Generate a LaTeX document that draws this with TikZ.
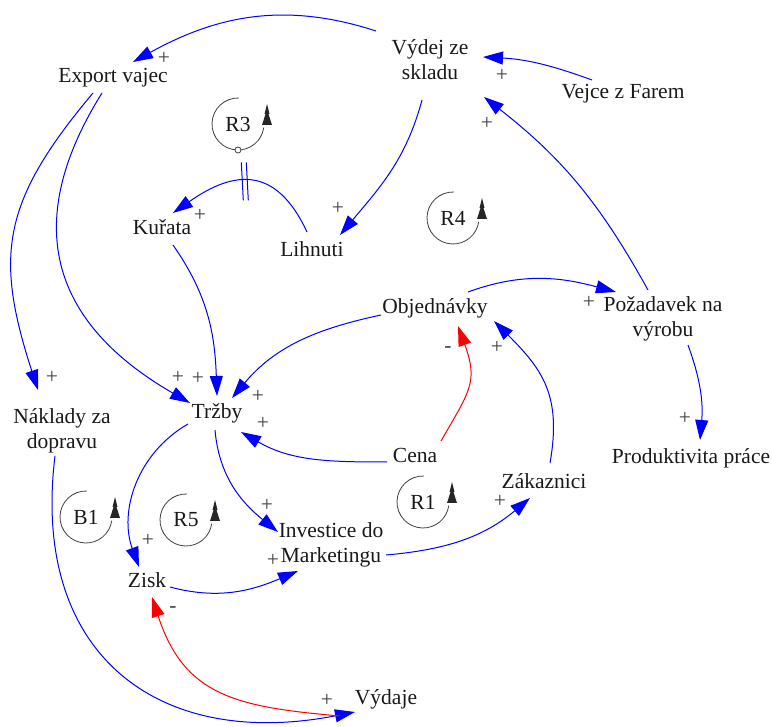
\documentclass[tikz,border=0pt]{standalone}
\usepackage{fontspec}
\setmainfont{Liberation Serif}
\usetikzlibrary{arrows.meta}
\tikzset{
  loopmark/.pic={
    \draw[loopline] (272:26) arc[start angle=272, end angle=8, radius=26];
    \fill[black!85] (29,-20) -- (26.5,-10) -- (27.5,-10) -- (24,1) -- (34,1)
      -- (30.5,-10) -- (31.5,-10) -- cycle;
  }
}
\begin{document}
\begin{tikzpicture}[x=1pt,y=-1pt,
  every node/.style={font=\fontsize{21.5}{25}\selectfont, inner sep=0pt, text=black!90},
  varm/.style={align=center},
  plink/.style={blue, line width=1pt, -{Triangle[length=20pt,width=13pt]}},
  nlink/.style={red, line width=1pt, -{Triangle[length=20pt,width=13pt]}},
  sgn/.style={text=black!75},
  loopline/.style={draw=black!75, line width=0.8pt}]
\useasboundingbox (0,0) rectangle (772,727);

% variables
\node[anchor=base] (exp) at (113,83) {Export vajec};
\node[varm] (vyd) at (430,60) {Výdej ze\\skladu};
\node[anchor=base] (vej) at (623,99) {Vejce z Farem};
\node[anchor=base] (kur) at (162,235) {Kuřata};
\node[anchor=base] (lih) at (312,257) {Lihnuti};
\node[anchor=base] (obj) at (435,314) {Objednávky};
\node[varm] (poz) at (663,318.5) {Požadavek na\\výrobu};
\node[anchor=base] (trz) at (217,419) {Tržby};
\node[varm] (nak) at (62,430.5) {Náklady za\\dopravu};
\node[anchor=base] (cen) at (415,463) {Cena};
\node[anchor=base] (pro) at (691,464) {Produktivita práce};
\node[anchor=base] (zak) at (544,489) {Zákaznici};
\node[varm] (inv) at (331,544.5) {Investice do\\Marketingu};
\node[anchor=base] (zis) at (147,587) {Zisk};
\node[anchor=base] (vyda) at (386,704) {Výdaje};

% loop identifiers
\pic at (238,124) {loopmark};
\node (r3) at (238,124) {R3};
\draw[loopline, fill=white] (238,150) circle[radius=3];
\pic at (453,218) {loopmark};
\node (r4) at (453,218) {R4};
\pic at (423,502) {loopmark};
\node (r1) at (423,502) {R1};
\pic at (86,517) {loopmark};
\node (b1) at (86,517) {B1};
\pic at (186,520) {loopmark};
\node (r5) at (186,520) {R5};

% causal links (out/in angles are measured with y pointing up)
\draw[plink] ([shift={(-54,-29)}]vyd.center) to[out=162,in=29] ([shift={(20,-21)}]exp.base);
\draw[plink] ([shift={(-31,-19)}]vej.base) to[out=160,in=357] ([shift={(53,-3)}]vyd.center);
\draw[plink] ([shift={(-15,-28.5)}]poz.center) to[out=119,in=322] ([shift={(54,37)}]vyd.center);
\draw[plink] ([shift={(-8,40)}]vyd.center) to[out=255,in=50] ([shift={(28,-22)}]lih.base);
\draw[plink] ([shift={(-5,-25)}]lih.base) to[out=115,in=35,looseness=1.4]
  coordinate[pos=0.55] (delay) ([shift={(11,-22)}]kur.base);
\draw[blue, line width=1pt] ([shift={(-3,-19)}]delay) -- ([shift={(-1,19)}]delay)
  ([shift={(2,-19)}]delay) -- ([shift={(4,19)}]delay);
\draw[plink] ([shift={(-20,10)}]exp.base) to[out=230,in=108,looseness=1.2] ([shift={(-24,-40.5)}]nak.center);
\draw[plink] ([shift={(-11,10)}]exp.base) to[out=238,in=150,looseness=1.25] ([shift={(-27,-16)}]trz.base);
\draw[plink] ([shift={(11,10)}]kur.base) to[out=305,in=92] ([shift={(0,-23)}]trz.base);
\draw[plink] ([shift={(-54,1)}]obj.base) to[out=192,in=50] ([shift={(15,-21)}]trz.base);
\draw[plink] ([shift={(-28,-1)}]cen.base) to[out=180,in=330] ([shift={(24,13)}]trz.base);
\draw[nlink] ([shift={(26,-22)}]cen.base) to[out=60,in=290,looseness=1.3] ([shift={(23,12)}]obj.base);
\draw[plink] ([shift={(6,-26)}]zak.base) to[out=80,in=315,looseness=1.15] ([shift={(59,7)}]obj.base);
\draw[plink] ([shift={(33,-22)}]obj.base) to[out=20,in=165] ([shift={(-47,-26.5)}]poz.center);
\draw[plink] ([shift={(25,26.5)}]poz.center) to[out=290,in=85] ([shift={(9,-24)}]pro.base);
\draw[plink] ([shift={(-29,5)}]trz.base) to[out=210,in=110] ([shift={(-8,-20)}]zis.base);
\draw[plink] ([shift={(-2,11)}]trz.base) to[out=275,in=141] ([shift={(-53,-12.5)}]inv.center);
\draw[plink] ([shift={(23,0)}]zis.base) to[out=345,in=203] ([shift={(-33,26.5)}]inv.center);
\draw[plink] ([shift={(55,10.5)}]inv.center) to[out=5,in=220] ([shift={(-14,9)}]zak.base);
\draw[plink] ([shift={(-7,25.5)}]nak.center) to[out=263,in=191,looseness=1.3] ([shift={(-31,8)}]vyda.base);
\draw[nlink] ([shift={(-46,12)}]vyda.base) to[out=175,in=288,looseness=1.2] ([shift={(5,10)}]zis.base);

% link polarities
\node[sgn] (s1) at (164,58) {+};
\node[sgn] (s2) at (502,75) {+};
\node[sgn] (s3) at (487,123) {+};
\node[sgn] (s4) at (338,208) {+};
\node[sgn] (s5) at (200,215) {+};
\node[sgn] (s6) at (52,377) {+};
\node[sgn] (s7) at (178,377) {+};
\node[sgn] (s8) at (198,378) {+};
\node[sgn] (s9) at (258,396) {+};
\node[sgn] (s10) at (263,423) {+};
\node[sgn] (s11) at (448,350) {-};
\node[sgn] (s12) at (497,347) {+};
\node[sgn] (s13) at (589,302) {+};
\node[sgn] (s14) at (685,418) {+};
\node[sgn] (s15) at (148,540) {+};
\node[sgn] (s16) at (267,505) {+};
\node[sgn] (s17) at (273,560) {+};
\node[sgn] (s18) at (500,501) {+};
\node[sgn] (s19) at (327,700) {+};
\node[sgn] (s20) at (173,610) {-};
\end{tikzpicture}
\end{document}
